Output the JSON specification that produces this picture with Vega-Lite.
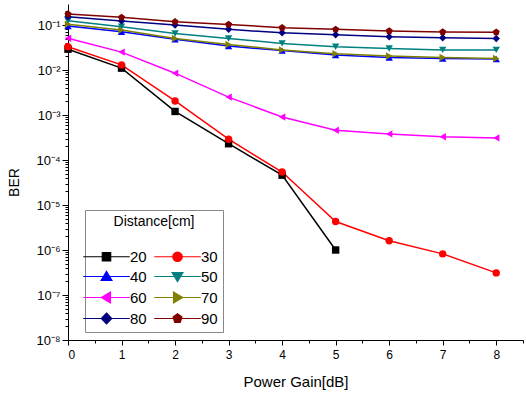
{
  "$schema": "https://vega.github.io/schema/vega-lite/v6.json",
  "width": 455,
  "height": 336,
  "autosize": {"type": "none"},
  "padding": {"left": 68, "top": 4, "right": 3, "bottom": 56},
  "background": "white",
  "config": {
    "view": {"stroke": null},
    "font": "Liberation Sans",
    "axis": {"domainColor": "black", "tickColor": "black", "labelColor": "black", "titleColor": "black", "grid": false, "labelFont": "Liberation Sans", "titleFont": "Liberation Sans", "titleFontWeight": "normal"}
  },
  "data": {"values": [
    {"x": 0, "d": "20", "ber": 0.029}, {"x": 1, "d": "20", "ber": 0.011}, {"x": 2, "d": "20", "ber": 0.0012}, {"x": 3, "d": "20", "ber": 0.00023}, {"x": 4, "d": "20", "ber": 0.000046}, {"x": 5, "d": "20", "ber": 0.000001},
    {"x": 0, "d": "30", "ber": 0.033}, {"x": 1, "d": "30", "ber": 0.013}, {"x": 2, "d": "30", "ber": 0.00205}, {"x": 3, "d": "30", "ber": 0.00029}, {"x": 4, "d": "30", "ber": 0.000054}, {"x": 5, "d": "30", "ber": 0.0000043}, {"x": 6, "d": "30", "ber": 0.0000016}, {"x": 7, "d": "30", "ber": 0.00000082}, {"x": 8, "d": "30", "ber": 0.00000031},
    {"x": 0, "d": "40", "ber": 0.095}, {"x": 1, "d": "40", "ber": 0.071}, {"x": 2, "d": "40", "ber": 0.048}, {"x": 3, "d": "40", "ber": 0.034}, {"x": 4, "d": "40", "ber": 0.027}, {"x": 5, "d": "40", "ber": 0.0215}, {"x": 6, "d": "40", "ber": 0.019}, {"x": 7, "d": "40", "ber": 0.018}, {"x": 8, "d": "40", "ber": 0.0175},
    {"x": 0, "d": "50", "ber": 0.124}, {"x": 1, "d": "50", "ber": 0.092}, {"x": 2, "d": "50", "ber": 0.065}, {"x": 3, "d": "50", "ber": 0.05}, {"x": 4, "d": "50", "ber": 0.039}, {"x": 5, "d": "50", "ber": 0.033}, {"x": 6, "d": "50", "ber": 0.03}, {"x": 7, "d": "50", "ber": 0.028}, {"x": 8, "d": "50", "ber": 0.028},
    {"x": 0, "d": "60", "ber": 0.051}, {"x": 1, "d": "60", "ber": 0.025}, {"x": 2, "d": "60", "ber": 0.0085}, {"x": 3, "d": "60", "ber": 0.0025}, {"x": 4, "d": "60", "ber": 0.0009}, {"x": 5, "d": "60", "ber": 0.00046}, {"x": 6, "d": "60", "ber": 0.00038}, {"x": 7, "d": "60", "ber": 0.00033}, {"x": 8, "d": "60", "ber": 0.00031},
    {"x": 0, "d": "70", "ber": 0.104}, {"x": 1, "d": "70", "ber": 0.077}, {"x": 2, "d": "70", "ber": 0.05}, {"x": 3, "d": "70", "ber": 0.037}, {"x": 4, "d": "70", "ber": 0.028}, {"x": 5, "d": "70", "ber": 0.023}, {"x": 6, "d": "70", "ber": 0.0205}, {"x": 7, "d": "70", "ber": 0.019}, {"x": 8, "d": "70", "ber": 0.018},
    {"x": 0, "d": "80", "ber": 0.153}, {"x": 1, "d": "80", "ber": 0.123}, {"x": 2, "d": "80", "ber": 0.1}, {"x": 3, "d": "80", "ber": 0.08}, {"x": 4, "d": "80", "ber": 0.067}, {"x": 5, "d": "80", "ber": 0.061}, {"x": 6, "d": "80", "ber": 0.055}, {"x": 7, "d": "80", "ber": 0.052}, {"x": 8, "d": "80", "ber": 0.05},
    {"x": 0, "d": "90", "ber": 0.175}, {"x": 1, "d": "90", "ber": 0.148}, {"x": 2, "d": "90", "ber": 0.118}, {"x": 3, "d": "90", "ber": 0.103}, {"x": 4, "d": "90", "ber": 0.087}, {"x": 5, "d": "90", "ber": 0.08}, {"x": 6, "d": "90", "ber": 0.074}, {"x": 7, "d": "90", "ber": 0.07}, {"x": 8, "d": "90", "ber": 0.069}
  ]},
  "layer": [
    {
      "mark": {"type": "point", "opacity": 0},
      "encoding": {
        "x": {"field": "x", "type": "quantitative", "scale": {"domain": [0, 8.5], "nice": false, "zero": false},
          "axis": {"orient": "bottom", "values": [0.5, 1.5, 2.5, 3.5, 4.5, 5.5, 6.5, 7.5, 8.5], "labels": false, "domain": false, "tickSize": 3, "title": null}},
        "y": {"field": "ber", "type": "quantitative", "scale": {"type": "log", "domain": [1e-8, 0.293], "nice": false},
          "axis": {"orient": "left", "values": [2e-8,3e-8,4e-8,5e-8,6e-8,7e-8,8e-8,9e-8,2e-7,3e-7,4e-7,5e-7,6e-7,7e-7,8e-7,9e-7,2e-6,3e-6,4e-6,5e-6,6e-6,7e-6,8e-6,9e-6,2e-5,3e-5,4e-5,5e-5,6e-5,7e-5,8e-5,9e-5,2e-4,3e-4,4e-4,5e-4,6e-4,7e-4,8e-4,9e-4,2e-3,3e-3,4e-3,5e-3,6e-3,7e-3,8e-3,9e-3,2e-2,3e-2,4e-2,5e-2,6e-2,7e-2,8e-2,9e-2,0.2], "labels": false, "domain": false, "tickSize": 3, "title": null}}
      }
    },
    {
      "mark": {"type": "line", "strokeWidth": 1.5},
      "encoding": {
        "x": {"field": "x", "type": "quantitative",
          "axis": {"orient": "bottom", "values": [0, 1, 2, 3, 4, 5, 6, 7, 8], "format": "d", "tickSize": 5, "labelFontSize": 12, "labelPadding": 4, "title": "Power Gain[dB]", "titleFontSize": 15, "titlePadding": 14}},
        "y": {"field": "ber", "type": "quantitative",
          "axis": {"orient": "left", "values": [1e-8, 1e-7, 1e-6, 1e-5, 1e-4, 1e-3, 1e-2, 1e-1], "tickSize": 6, "labelFontSize": 13, "labelPadding": 2,
            "labelExpr": "'10' + ['⁻⁸','⁻⁷','⁻⁶','⁻⁵','⁻⁴','⁻³','⁻²','⁻¹'][round(log(datum.value)/LN10) + 8]",
            "title": "BER", "titleFontSize": 14, "titlePadding": 14, "titleY": 178}},
        "color": {"field": "d", "type": "nominal", "legend": null,
          "scale": {"domain": ["20","30","40","50","60","70","80","90"], "range": ["#000000","#ff0000","#0000ff","#008080","#ff00ff","#808000","#000080","#800000"]}}
      }
    },
    {
      "mark": {"type": "point", "filled": true, "opacity": 1, "size": 55},
      "encoding": {
        "x": {"field": "x", "type": "quantitative", "axis": null},
        "y": {"field": "ber", "type": "quantitative", "axis": null},
        "color": {"field": "d", "type": "nominal", "legend": null,
          "scale": {"domain": ["20","30","40","50","60","70","80","90"], "range": ["#000000","#ff0000","#0000ff","#008080","#ff00ff","#808000","#000080","#800000"]}},
        "shape": {"field": "d", "type": "nominal", "legend": null,
          "scale": {"domain": ["20","30","40","50","60","70","80","90"], "range": ["square","circle","triangle-up","triangle-down","triangle-left","triangle-right","diamond","M0,-1L0.951,-0.309L0.588,0.809L-0.588,0.809L-0.951,-0.309Z"]}}
      }
    },
    {
      "mark": {"type": "point", "filled": true, "opacity": 0, "size": 64},
      "encoding": {
        "x": {"field": "x", "type": "quantitative", "axis": null},
        "y": {"field": "ber", "type": "quantitative", "axis": null},
        "color": {"field": "d", "type": "nominal",
          "scale": {"domain": ["20","40","60","80","30","50","70","90"], "range": ["#000000","#0000ff","#ff00ff","#000080","#ff0000","#008080","#808000","#800000"]},
          "legend": {"orient": "none", "legendX": 17, "legendY": 206, "columns": 2, "title": "Distance[cm]", "titleFontSize": 14, "titleFontWeight": "normal", "titleFont": "Liberation Sans", "titleAnchor": "middle", "titlePadding": 20, "labelFontSize": 15, "labelFont": "Liberation Sans", "labelOffset": 16, "symbolOffset": 9, "columnPadding": 5, "rowPadding": 4, "padding": 5, "strokeColor": "#888888",
            "encode": {"symbols": {"update": {"opacity": {"value": 1}, "strokeWidth": {"value": 1.1}, "stroke": {"signal": "{'20':'#000000','30':'#ff0000','40':'#0000ff','50':'#008080','60':'#ff00ff','70':'#808000','80':'#000080','90':'#800000'}[datum.value]"}}}}}},
        "shape": {"field": "d", "type": "nominal",
          "scale": {"domain": ["20","40","60","80","30","50","70","90"], "range": [
            "M-4.65,0H4.65M-0.85,-0.85H0.85V0.85H-0.85Z",
            "M-4.65,0H4.65M0,-1.05L1.1,0.8L-1.1,0.8Z",
            "M-4.65,0H4.65M-1.05,0L0.8,-1.1L0.8,1.1Z",
            "M-4.65,0H4.65M0,-1.1L1.05,0L0,1.1L-1.05,0Z",
            "M-4.65,0H4.65M-0.95,0A0.95,0.95,0,1,0,0.95,0A0.95,0.95,0,1,0,-0.95,0Z",
            "M-4.65,0H4.65M0,1.05L1.1,-0.8L-1.1,-0.8Z",
            "M-4.65,0H4.65M1.05,0L-0.8,-1.1L-0.8,1.1Z",
            "M-4.65,0H4.65M0,-0.95L0.9,-0.29L0.56,0.77L-0.56,0.77L-0.9,-0.29Z"]},
          "legend": {"orient": "none", "legendX": 17, "legendY": 206, "columns": 2, "title": "Distance[cm]"}}
      }
    }
  ],
  "resolve": {"scale": {"color": "independent", "shape": "independent"}, "axis": {"x": "independent", "y": "independent"}}
}
